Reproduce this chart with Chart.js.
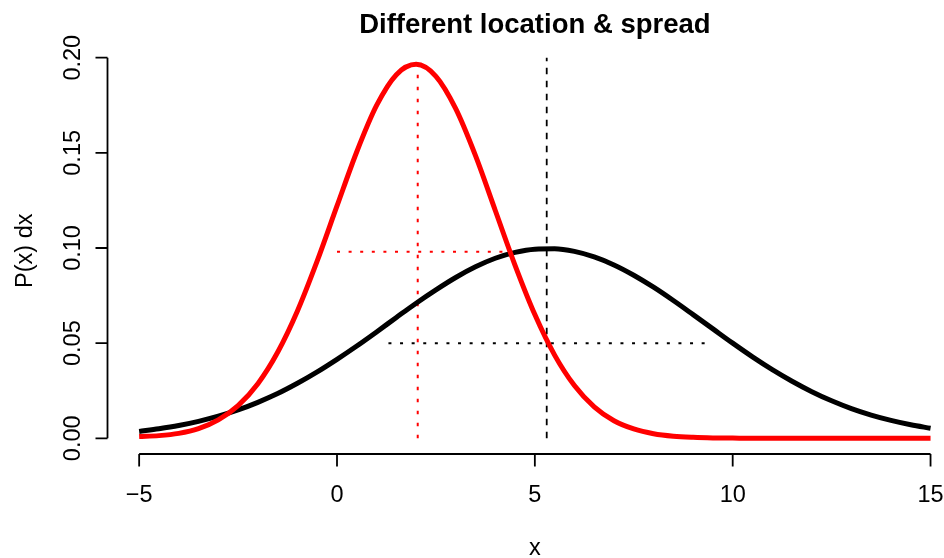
<!DOCTYPE html>
<html>
<head>
<meta charset="utf-8">
<title>Different location &amp; spread</title>
<script src="https://cdn.jsdelivr.net/npm/chart.js@4/dist/chart.umd.min.js"></script>
<style>
  html, body { margin: 0; padding: 0; background: #ffffff; }
  canvas { display: block; }
</style>
</head>
<body>
<canvas id="chart" width="944" height="558"></canvas>
<script>
// x positions at which both densities are sampled
const xs = [-5, -4.5, -4, -3.5, -3, -2.5, -2, -1.5, -1, -0.5,
            0, 0.5, 1, 1.5, 2, 2.5, 3, 3.5, 4, 4.5,
            5, 5.5, 6, 6.5, 7, 7.5, 8, 8.5, 9, 9.5,
            10, 10.5, 11, 11.5, 12, 12.5, 13, 13.5, 14, 14.5, 15];

// wide density centred near 5.3
const blackY = [0.0036, 0.0050, 0.0067, 0.0089, 0.0116, 0.0149, 0.0189, 0.0235, 0.0289, 0.0349,
                0.0415, 0.0485, 0.0559, 0.0635, 0.0710, 0.0780, 0.0845, 0.0901, 0.0946, 0.0977,
                0.0994, 0.0996, 0.0982, 0.0953, 0.0911, 0.0857, 0.0794, 0.0724, 0.0650, 0.0575,
                0.0500, 0.0428, 0.0361, 0.0300, 0.0245, 0.0197, 0.0156, 0.0122, 0.0094, 0.0071, 0.0053];

// narrow density centred near 2
const redY = [0.0009, 0.0014, 0.0026, 0.0051, 0.0097, 0.0172, 0.0287, 0.0452, 0.0669, 0.0932,
              0.1221, 0.1506, 0.1749, 0.1911, 0.1965, 0.1902, 0.1732, 0.1485, 0.1197, 0.0909,
              0.0650, 0.0437, 0.0277, 0.0165, 0.0092, 0.0049, 0.0024, 0.0011, 0.0005, 0.0002,
              0.0001, 0, 0, 0, 0, 0, 0, 0, 0, 0, 0];

// reference lines: location (vertical) and spread (horizontal at half height)
const blackLocX = [5.3, 5.3];
const blackLocY = [0, 0.20];
const blackSpreadX = [1.3, 9.3];
const blackSpreadY = [0.05, 0.05];
const redLocX = [2.04, 2.04];
const redLocY = [0, 0.20];
const redSpreadX = [0, 4.35];
const redSpreadY = [0.098, 0.098];

// axis ticks
const xTicks = [-5, 0, 5, 10, 15];
const xTickLabels = ['\u22125', '0', '5', '10', '15'];
const yTicks = [0, 0.05, 0.10, 0.15, 0.20];
const yTickLabels = ['0.00', '0.05', '0.10', '0.15', '0.20'];

const titleText = 'Different location & spread';
const xTitle = 'x';
const yTitle = 'P(x) dx';

const pts = (xa, ya) => xa.map((x, i) => ({ x: x, y: ya[i] }));

const FONT = '"Liberation Sans", Arial, Helvetica, sans-serif';

// axes, tick labels and titles in the classic detached-axis style
const axesPlugin = {
  id: 'classicAxes',
  afterDraw(chart) {
    const ctx = chart.ctx;
    const sx = chart.scales.x;
    const sy = chart.scales.y;
    const area = chart.chartArea;
    ctx.save();
    ctx.strokeStyle = '#000';
    ctx.fillStyle = '#000';
    ctx.lineWidth = 1.8;

    // x axis
    const axY = area.bottom + 0.5;
    ctx.beginPath();
    ctx.moveTo(sx.getPixelForValue(xTicks[0]), axY);
    ctx.lineTo(sx.getPixelForValue(xTicks[xTicks.length - 1]), axY);
    xTicks.forEach(v => {
      const px = sx.getPixelForValue(v);
      ctx.moveTo(px, axY);
      ctx.lineTo(px, axY + 12.5);
    });
    ctx.stroke();

    ctx.font = '23.5px ' + FONT;
    ctx.textAlign = 'center';
    ctx.textBaseline = 'alphabetic';
    xTicks.forEach((v, i) => {
      ctx.fillText(xTickLabels[i], sx.getPixelForValue(v), 502);
    });

    // y axis
    const axX = area.left;
    ctx.beginPath();
    ctx.moveTo(axX, sy.getPixelForValue(yTicks[0]));
    ctx.lineTo(axX, sy.getPixelForValue(yTicks[yTicks.length - 1]));
    yTicks.forEach(v => {
      const py = sy.getPixelForValue(v);
      ctx.moveTo(axX, py);
      ctx.lineTo(axX - 12, py);
    });
    ctx.stroke();

    yTicks.forEach((v, i) => {
      ctx.save();
      ctx.translate(80, sy.getPixelForValue(v));
      ctx.rotate(-Math.PI / 2);
      ctx.fillText(yTickLabels[i], 0, 0);
      ctx.restore();
    });

    // axis titles
    const midX = sx.getPixelForValue((sx.min + 15.8) / 2);
    ctx.fillText(xTitle, midX, 555);
    ctx.save();
    ctx.translate(32, (area.top + area.bottom) / 2);
    ctx.rotate(-Math.PI / 2);
    ctx.fillText(yTitle, 0, 0);
    ctx.restore();

    // main title
    ctx.font = 'bold 27.5px ' + FONT;
    ctx.fillText(titleText, midX, 33);

    ctx.restore();
  }
};

const refLine = (data, color, dash, width) => ({
  data: data,
  borderColor: color,
  borderWidth: width,
  borderDash: dash,
  pointRadius: 0,
  fill: false,
  order: 5
});

new Chart(document.getElementById('chart'), {
  type: 'line',
  data: {
    datasets: [
      {
        label: 'narrow',
        data: pts(xs, redY),
        borderColor: '#ff0000',
        borderWidth: 5,
        pointRadius: 0,
        cubicInterpolationMode: 'monotone',
        fill: false,
        order: 0
      },
      {
        label: 'wide',
        data: pts(xs, blackY),
        borderColor: '#000000',
        borderWidth: 5,
        pointRadius: 0,
        cubicInterpolationMode: 'monotone',
        fill: false,
        order: 1
      },
      refLine(pts(blackLocX, blackLocY), '#000000', [6.5, 6.5], 1.8),
      refLine(pts(blackSpreadX, blackSpreadY), '#000000', [3, 8.6], 2),
      refLine(pts(redLocX, redLocY), '#ff0000', [3.5, 8.5], 2),
      refLine(pts(redSpreadX, redSpreadY), '#ff0000', [3, 8.6], 2)
    ]
  },
  options: {
    responsive: false,
    devicePixelRatio: 1,
    animation: false,
    events: [],
    layout: { padding: { left: 107.5, right: 4, top: 48, bottom: 104.5 } },
    plugins: {
      legend: { display: false },
      tooltip: { enabled: false },
      title: { display: false }
    },
    scales: {
      x: { type: 'linear', display: false, min: -5.8, max: 15.239 },
      y: { type: 'linear', display: false, min: -0.00799, max: 0.2051 }
    }
  },
  plugins: [axesPlugin]
});
</script>
</body>
</html>
